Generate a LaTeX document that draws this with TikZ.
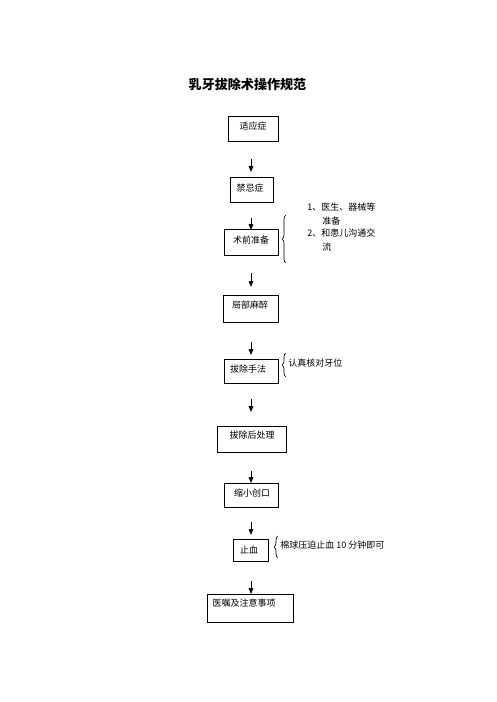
\documentclass[tikz,border=0pt]{standalone}
\usepackage{fontspec}
\newfontfamily\cjk{Noto Sans CJK SC}
\usetikzlibrary{arrows.meta,decorations.pathreplacing,fit}
\begin{document}
\begin{tikzpicture}[x=0.75pt,y=-0.75pt,
  stepbox/.style={draw,line width=0.75pt,inner sep=0pt},
  lbl/.style={inner sep=0pt,font=\cjk\fontsize{6.75}{8}\selectfont},
  flow/.style={-{Triangle[length=4.5pt,width=3.5pt]},line width=0.6pt},
  brc/.style={decorate,decoration={brace,amplitude=3pt},line width=0.5pt}]
\useasboundingbox (0,0) rectangle (496,702);
\node[inner sep=0pt,font=\cjk\bfseries\fontsize{9.8}{11}\selectfont] (title) at (247.5,84) {乳牙拔除术操作规范};
% boxes
\node[stepbox,fit={(228,117) (278,142)}] (b1) {};
\node[lbl] (t1) at (253,126) {适应症};
\node[stepbox,fit={(230,178) (273,203)}] (b2) {};
\node[lbl] (t2) at (250,188) {禁忌症};
\node[stepbox,fit={(224,229) (278,255)}] (b3) {};
\node[lbl] (t3) at (251,240) {术前准备};
\node[stepbox,fit={(223,295) (278,322)}] (b4) {};
\node[lbl] (t4) at (250,305) {局部麻醉};
\node[stepbox,fit={(224,359) (278,383)}] (b5) {};
\node[lbl] (t5) at (248,369) {拔除手法};
\node[stepbox,fit={(217,426) (286,452)}] (b6) {};
\node[lbl] (t6) at (252,435) {拔除后处理};
\node[stepbox,fit={(224,483) (278,507)}] (b7) {};
\node[lbl] (t7) at (252,493) {缩小创口};
\node[stepbox,fit={(233,539) (268,561)}] (b8) {};
\node[lbl] (t8) at (249,550) {止血};
\node[stepbox,fit={(207,594) (293,622)}] (b9) {};
\node[lbl] (t9) at (244,603) {医嘱及注意事项};
% arrows
\coordinate (a1s) at (251,159); \coordinate (a1e) at (251,172);
\coordinate (a2s) at (251,218); \coordinate (a2e) at (251,230);
\coordinate (a3s) at (251,273); \coordinate (a3e) at (251,287);
\coordinate (a4s) at (251,342); \coordinate (a4e) at (251,355);
\coordinate (a5s) at (251,399); \coordinate (a5e) at (251,412);
\coordinate (a6s) at (251,471); \coordinate (a6e) at (251,483);
\coordinate (a7s) at (251,522); \coordinate (a7e) at (251,535);
\coordinate (a8s) at (251,581); \coordinate (a8e) at (251,594);
\foreach \i in {1,...,8} {\draw[flow] (a\i s) -- (a\i e);}
% braces
\coordinate (br1b) at (286,263); \coordinate (br1t) at (286,215);
\draw[brc] (br1b) -- (br1t);
\node[lbl,anchor=west] (n1) at (307,207) {1、医生、器械等};
\node[lbl,anchor=west] (n2) at (322,221) {准备};
\node[lbl,anchor=west] (n3) at (307,233) {2、和患儿沟通交};
\node[lbl,anchor=west] (n4) at (322,247) {流};
\coordinate (br2b) at (286,377); \coordinate (br2t) at (286,353);
\draw[brc] (br2b) -- (br2t);
\node[lbl,anchor=west] (n5) at (288,363) {认真核对牙位};
\coordinate (br3b) at (278,558); \coordinate (br3t) at (278,536);
\draw[brc] (br3b) -- (br3t);
\node[lbl,anchor=west] (n6) at (280,545) {棉球压迫止血 10 分钟即可};
\end{tikzpicture}
\end{document}
